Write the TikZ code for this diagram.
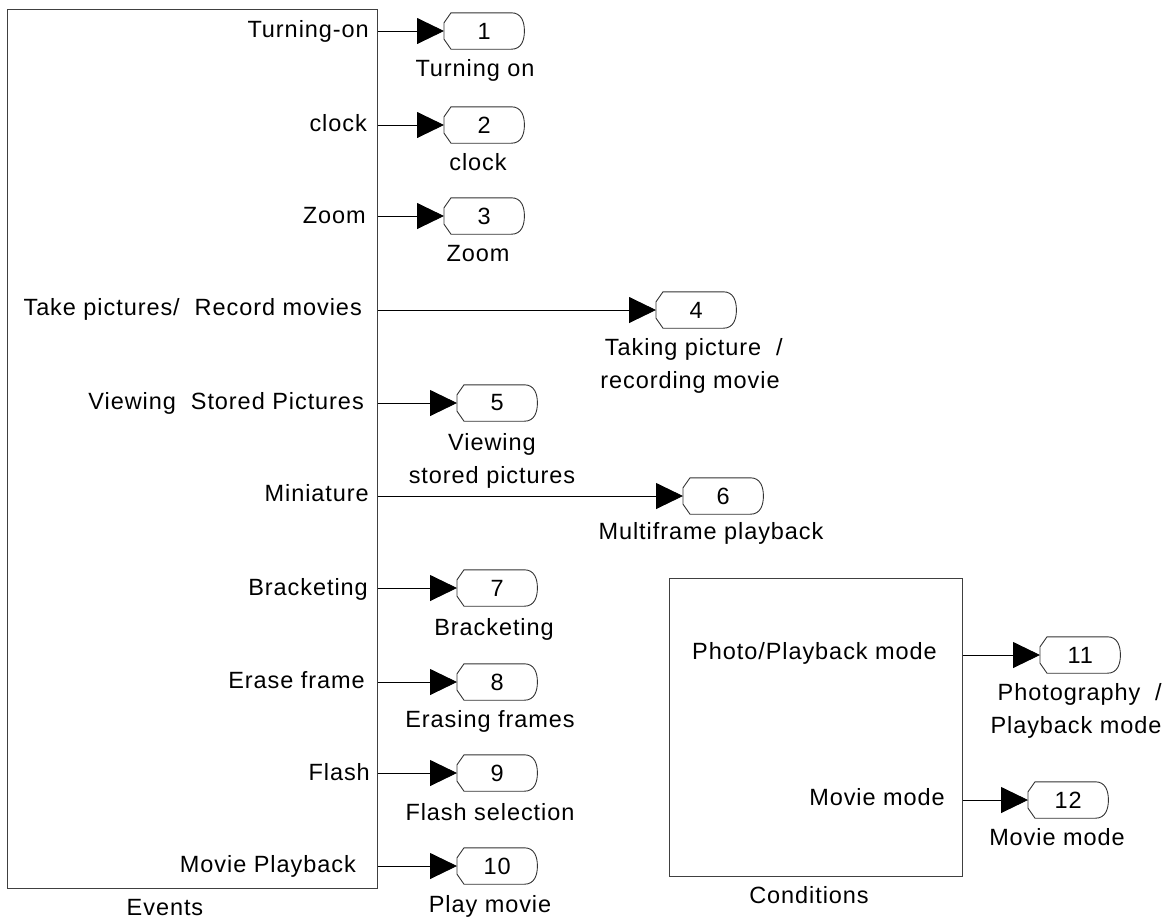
\documentclass[tikz,border=0pt]{standalone}
\usepackage{fontspec}
\setmainfont{Liberation Sans}[LetterSpace=4]
\usetikzlibrary{arrows.meta,calc}
\begin{document}
\begin{tikzpicture}[x=1pt,y=-1pt,
  font=\fontsize{23.5}{33}\selectfont,
  box/.style={draw=black!75,line width=1.3pt,inner sep=0pt,anchor=north west},
  port/.style={minimum width=80pt,minimum height=36pt,inner sep=0pt,anchor=west},
  portline/.style={draw=black!80,line width=0.9pt},
  conn/.style={line width=0.9pt,-{Triangle[length=27pt,width=26pt]}},
  inlab/.style={anchor=base east,inner sep=0pt},
  outlab/.style={anchor=base,inner sep=0pt,align=center}]
\useasboundingbox (0,0) rectangle (1173,922);
% blocks
\node[box,minimum width=370pt,minimum height=879pt] (ev) at (7,9) {};
\node[box,minimum width=293pt,minimum height=298pt] (cond) at (669,578) {};
\node[outlab] (evl) at (165,915) {Events};
\node[outlab] (condl) at (809,903) {Conditions};
% inner labels
\node[inlab] (i1) at (369,37) {Turning-on};
\node[inlab] (i2) at (367,131) {clock};
\node[inlab] (i3) at (366,223) {Zoom};
\node[inlab] (i4) at (362,315) {Take pictures/\ \ Record movies};
\node[inlab] (i5) at (364,409) {Viewing\ \ Stored Pictures};
\node[inlab] (i6) at (369,501) {Miniature};
\node[inlab] (i7) at (368,595) {Bracketing};
\node[inlab] (i8) at (365,688) {Erase frame};
\node[inlab] (i9) at (370,780) {Flash};
\node[inlab] (i10) at (356,872) {Movie Playback};
\node[inlab] (i11) at (937,659) {Photo/Playback mode};
\node[inlab] (i12) at (945,805) {Movie mode};
% ports
\node[port] (p1) at (444,31) {1};
\node[port] (p2) at (444,125) {2};
\node[port] (p3) at (444,216) {3};
\node[port] (p4) at (656,310) {4};
\node[port] (p5) at (457,403) {5};
\node[port] (p6) at (683,496) {6};
\node[port] (p7) at (457,588) {7};
\node[port] (p8) at (457,682) {8};
\node[port] (p9) at (457,773) {9};
\node[port] (p10) at (457,866) {10};
\node[port] (p11) at (1040,655) {11};
\node[port] (p12) at (1028,800) {12};
\foreach \p in {p1,p2,p3,p4,p5,p6,p7,p8,p9,p10,p11,p12}{
  \draw[portline] ($(\p.north west)+(7,0)$) -- ($(\p.north east)+(-13,0)$)
    .. controls ($(\p.north east)+(-3,0)$) and ($(\p.north east)+(0,9)$) .. (\p.east)
    .. controls ($(\p.south east)+(0,-9)$) and ($(\p.south east)+(-3,0)$) .. ($(\p.south east)+(-13,0)$)
    -- ($(\p.south west)+(7,0)$) -- ($(\p.south west)+(0,-10)$) -- ($(\p.north west)+(0,10)$) -- cycle;
}
% connectors
\foreach \p in {p1,p2,p3,p4,p5,p6,p7,p8,p9,p10}{
  \draw[conn] (ev.east |- \p.west) -- (\p.west);
}
\foreach \p in {p11,p12}{
  \draw[conn] (cond.east |- \p.west) -- (\p.west);
}
% port labels
\node[outlab] (l1) at (475,76) {Turning on};
\node[outlab] (l2) at (478,170) {clock};
\node[outlab] (l3) at (478,261) {Zoom};
\node[outlab] (l4) at (690,388) {\ Taking picture\ \ /\\recording movie};
\node[outlab] (l5) at (492,483) {Viewing\\stored pictures};
\node[outlab] (l6) at (711,539) {Multiframe playback};
\node[outlab] (l7) at (494,635) {Bracketing};
\node[outlab] (l8) at (490,727) {Erasing frames};
\node[outlab] (l9) at (490,820) {Flash selection};
\node[outlab] (l10) at (490,912) {Play movie};
\node[outlab] (l11) at (1076,733) {\ Photography\ \ /\\Playback mode};
\node[outlab] (l12) at (1057,845) {Movie mode};
\end{tikzpicture}
\end{document}
